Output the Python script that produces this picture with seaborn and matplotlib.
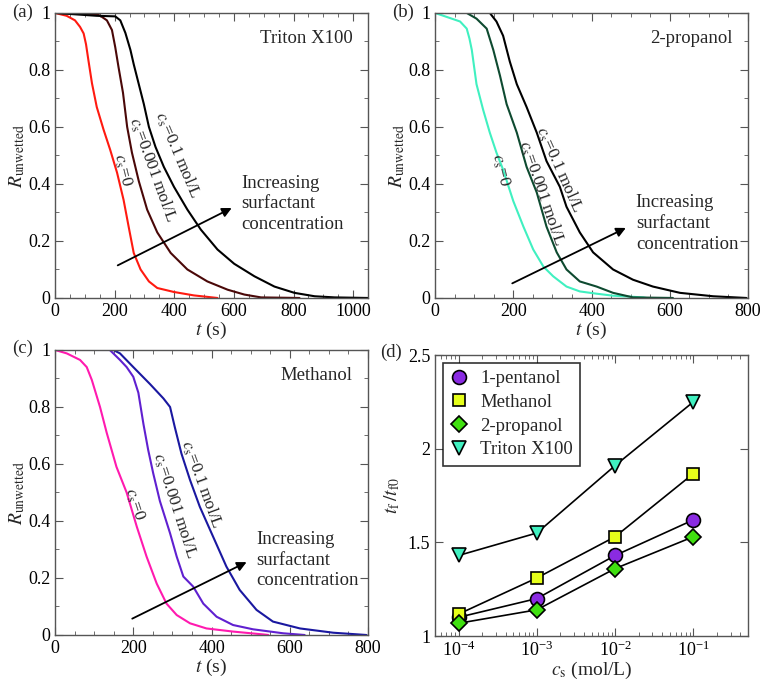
import numpy as np
import pandas as pd
import seaborn as sns
import matplotlib.pyplot as plt
from matplotlib.ticker import MultipleLocator, LogLocator, NullFormatter

# ---- panel (a): Triton X100 ----
a_t0 = [0, 39, 67, 84, 96, 104, 112, 124, 140, 163, 185, 208, 230, 247, 264, 287, 315, 343, 399, 466, 545]
a_r0 = [1, 0.99, 0.974, 0.951, 0.928, 0.89, 0.834, 0.753, 0.67, 0.59, 0.52, 0.44, 0.344, 0.25, 0.158, 0.10, 0.058,
        0.035, 0.021, 0.009, 0]
a_t1 = [0, 140, 152, 174, 191, 202, 213, 228, 242, 258, 281, 309, 343, 388, 444, 511, 579, 635, 691, 820]
a_r1 = [1, 0.995, 0.99, 0.974, 0.94, 0.88, 0.81, 0.72, 0.60, 0.51, 0.41, 0.31, 0.23, 0.158, 0.10, 0.058, 0.029,
        0.012, 0.002, 0]
a_t2 = [0, 140, 202, 219, 236, 253, 264, 281, 298, 315, 337, 365, 399, 444, 489, 545, 601, 669, 736, 803, 871, 938,
        1050]
a_r2 = [1, 0.99, 0.988, 0.974, 0.93, 0.87, 0.82, 0.75, 0.68, 0.60, 0.53, 0.46, 0.39, 0.31, 0.24, 0.17, 0.12, 0.076,
        0.04, 0.018, 0.006, 0.002, 0]

# ---- panel (b): 2-propanol ----
b_t0 = [0, 30, 64, 81, 88, 94, 106, 123, 140, 157, 174, 200, 226, 251, 277, 302, 336, 370, 413, 455, 532, 540]
b_r0 = [1, 0.986, 0.97, 0.945, 0.91, 0.87, 0.75, 0.66, 0.58, 0.51, 0.45, 0.34, 0.25, 0.17, 0.11, 0.076, 0.04, 0.023,
        0.015, 0.008, 0.002, 0]
b_t1 = [0, 81, 106, 132, 149, 166, 183, 209, 234, 260, 285, 311, 336, 370, 413, 455, 506, 608]
b_r1 = [1, 1, 0.98, 0.945, 0.87, 0.78, 0.68, 0.58, 0.46, 0.37, 0.25, 0.16, 0.10, 0.058, 0.04, 0.018, 0.002, 0]
b_t2 = [0, 140, 157, 174, 191, 209, 234, 260, 285, 319, 336, 370, 404, 455, 506, 557, 626, 711, 796]
b_r2 = [1, 1, 0.97, 0.92, 0.83, 0.75, 0.67, 0.58, 0.48, 0.39, 0.32, 0.23, 0.16, 0.10, 0.064, 0.04, 0.018, 0.006, 0]

# ---- panel (c): Methanol ----
c_t0 = [0, 30, 64, 81, 94, 115, 132, 157, 183, 209, 234, 260, 285, 311, 345, 387, 455, 532, 545]
c_r0 = [1, 0.988, 0.965, 0.94, 0.895, 0.80, 0.71, 0.59, 0.50, 0.38, 0.275, 0.18, 0.11, 0.07, 0.041, 0.023, 0.012,
        0.002, 0]
c_t1 = [0, 140, 166, 183, 200, 213, 226, 238, 251, 268, 294, 311, 328, 353, 379, 413, 455, 506, 583, 638]
c_r1 = [1, 1, 0.965, 0.94, 0.906, 0.85, 0.74, 0.65, 0.567, 0.47, 0.357, 0.275, 0.205, 0.17, 0.11, 0.064, 0.035,
        0.02, 0.006, 0]
c_t2 = [0, 149, 166, 200, 243, 277, 294, 306, 323, 345, 370, 404, 438, 472, 515, 557, 626, 711, 796]
c_r2 = [1, 1, 0.988, 0.94, 0.88, 0.83, 0.80, 0.73, 0.637, 0.544, 0.45, 0.345, 0.24, 0.158, 0.088, 0.047, 0.023,
        0.008, 0]

# ---- panel (d): t_f / t_f0 vs c_s ----
cs = [1e-4, 1e-3, 1e-2, 1e-1]
pentanol = [1.10, 1.20, 1.43, 1.62]
methanol = [1.117, 1.31, 1.53, 1.867]
propanol = [1.068, 1.14, 1.36, 1.53]
triton = [1.43, 1.55, 1.91, 2.25]

sns.set_style('ticks')
plt.rcParams['font.family'] = ['Liberation Serif', 'DejaVu Serif']
plt.rcParams['mathtext.fontset'] = 'stix'
plt.rcParams['font.size'] = 13
plt.rcParams['axes.edgecolor'] = '#555555'
plt.rcParams['axes.linewidth'] = 1.0

fig = plt.figure(figsize=(7.62, 6.85), dpi=100)
ax_a = fig.add_axes([0.0722, 0.5650, 0.4108, 0.4161])
ax_b = fig.add_axes([0.5709, 0.5650, 0.4108, 0.4161])
ax_c = fig.add_axes([0.0722, 0.0730, 0.4108, 0.4161])
ax_d = fig.add_axes([0.5709, 0.0715, 0.4108, 0.4102])


def style_axes(ax, xminor=50, yminor=0.1):
    ax.tick_params(which='both', direction='in', top=True, right=True, colors='#555555',
                   labelcolor='black', labelsize=13)
    ax.tick_params(which='major', length=6)
    ax.tick_params(which='minor', length=3)
    if xminor:
        ax.xaxis.set_minor_locator(MultipleLocator(xminor))
    if yminor:
        ax.yaxis.set_minor_locator(MultipleLocator(yminor))


def curve_panel(ax, curves, colors, labels, xmax, xticks, title, arrow, text_xy):
    for (t, r), col in zip(curves, colors):
        df = pd.DataFrame({'t': t, 'R': r})
        sns.lineplot(data=df, x='t', y='R', ax=ax, color=col, lw=1.5,
                     estimator=None, sort=False)
    for txt, x, y, rot in labels:
        ax.text(x, y, txt, rotation=rot, ha='center', va='center', fontsize=12.5,
                rotation_mode='anchor')
    ax.set_xlim(0, xmax)
    ax.set_ylim(0, 1)
    ax.set_xticks(xticks)
    ax.set_yticks([0, 0.2, 0.4, 0.6, 0.8, 1])
    ax.set_yticklabels(['0', '0.2', '0.4', '0.6', '0.8', '1'])
    style_axes(ax)
    ax.set_xlabel(r'$t$ (s)', fontsize=14, labelpad=0)
    ax.set_ylabel(r'$R_{\rm unwetted}$', fontsize=14, labelpad=1)
    ax.text(0.95, 0.91, title, transform=ax.transAxes, ha='right', va='center', fontsize=13.5)
    ax.annotate('', xy=arrow[1], xytext=arrow[0],
                arrowprops=dict(arrowstyle='-|>', color='black', lw=1.3, mutation_scale=14))
    ax.text(text_xy[0], text_xy[1], 'Increasing\nsurfactant\nconcentration',
            ha='left', va='center', fontsize=13.5, linespacing=1.3)


curve_panel(ax_a, [(a_t0, a_r0), (a_t1, a_r1), (a_t2, a_r2)],
            ['#ff1a10', '#4a0808', 'black'],
            [(r'$c_{\rm s}$=0', 225, 0.45, -76),
             (r'$c_{\rm s}$=0.001 mol/L', 326, 0.45, -70),
             (r'$c_{\rm s}$=0.1 mol/L', 410, 0.50, -67)],
            1050, [0, 200, 400, 600, 800, 1000], 'Triton X100',
            ((202, 0.11), (601, 0.32)), (626, 0.33))

curve_panel(ax_b, [(b_t0, b_r0), (b_t1, b_r1), (b_t2, b_r2)],
            ['#40f0c0', '#0e4a30', 'black'],
            [(r'$c_{\rm s}$=0', 168, 0.45, -76),
             (r'$c_{\rm s}$=0.001 mol/L', 272, 0.37, -71),
             (r'$c_{\rm s}$=0.1 mol/L', 317, 0.45, -66)],
            800, [0, 200, 400, 600, 800], '2-propanol',
            ((191, 0.047), (494, 0.25)), (513, 0.262))

curve_panel(ax_c, [(c_t0, c_r0), (c_t1, c_r1), (c_t2, c_r2)],
            ['#ff1aaf', '#6020d0', '#1a18a0'],
            [(r'$c_{\rm s}$=0', 204, 0.46, -72),
             (r'$c_{\rm s}$=0.001 mol/L', 306, 0.456, -72),
             (r'$c_{\rm s}$=0.1 mol/L', 374, 0.53, -70)],
            800, [0, 200, 400, 600, 800], 'Methanol',
            ((191, 0.053), (496, 0.26)), (515, 0.263))

# panel (d)
series = [('1-pentanol', pentanol, 'o', '#8a2be2', 10),
          ('Methanol', methanol, 's', '#e6ff1a', 9),
          ('2-propanol', propanol, 'D', '#40e010', 8),
          ('Triton X100', triton, 'v', '#40f0c0', 10.5)]
for name, vals, mk, col, ms in series:
    df = pd.DataFrame({'cs': cs, 'ratio': vals})
    sns.lineplot(data=df, x='cs', y='ratio', ax=ax_d, color='black', lw=1.2,
                 marker=mk, markersize=ms, markerfacecolor=col, markeredgecolor='black',
                 markeredgewidth=1.2, label=name, estimator=None)
ax_d.set_xscale('log')
ax_d.set_xlim(5e-5, 0.5)
ax_d.set_ylim(1, 2.5)
ax_d.set_xticks(cs)
ax_d.set_yticks([1, 1.5, 2, 2.5])
ax_d.set_yticklabels(['1', '1.5', '2', '2.5'])
ax_d.xaxis.set_minor_locator(LogLocator(base=10, subs=np.arange(2, 10), numticks=20))
ax_d.xaxis.set_minor_formatter(NullFormatter())
style_axes(ax_d, xminor=None, yminor=None)
ax_d.set_xlabel(r'$c_{\rm s}$ (mol/L)', fontsize=14, labelpad=0)
ax_d.set_ylabel(r'$t_{\rm f}\,/t_{\rm f0}$', fontsize=14, labelpad=4)
leg = ax_d.legend(loc='upper left', frameon=True, fancybox=False, fontsize=13.5,
                  handlelength=1.0, handletextpad=0.6, borderpad=0.4, labelspacing=0.35,
                  borderaxespad=0.4)
leg.get_frame().set_edgecolor('black')
leg.get_frame().set_linewidth(1.2)
for h in leg.legend_handles:
    h.set_linestyle('none')

# panel letters
for lbl, x, y in [('(a)', 12, 12), ('(b)', 392, 12), ('(c)', 12, 348), ('(d)', 380, 352)]:
    fig.text(x / 762, 1 - y / 685, lbl, ha='left', va='center', fontsize=13.5)

fig.savefig('out.png', dpi=100)
